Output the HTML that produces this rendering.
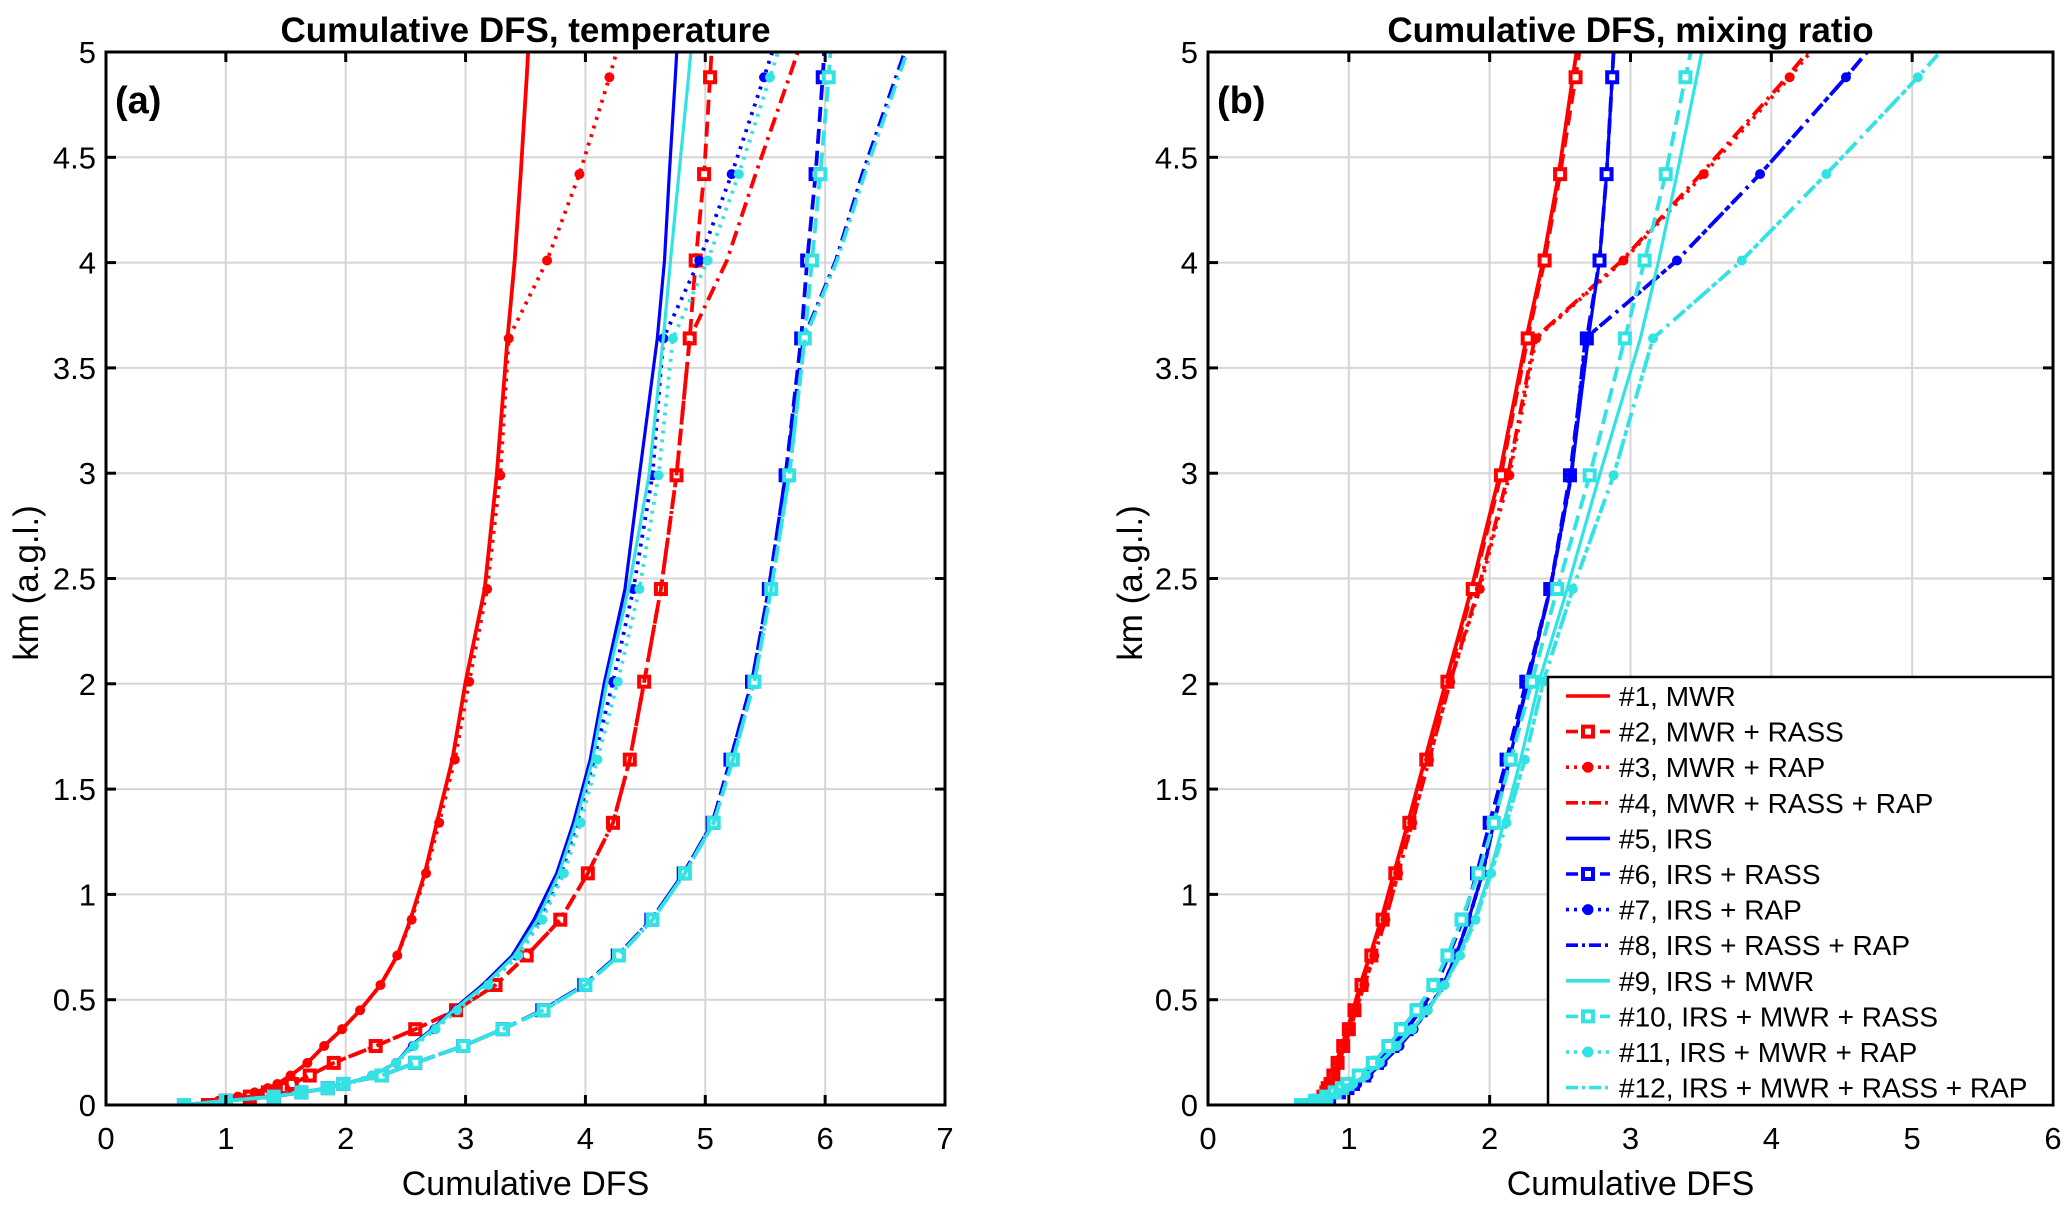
<!DOCTYPE html>
<html><head><meta charset="utf-8"><style>
html,body{margin:0;padding:0;background:#fff}
svg{display:block;font-family:"Liberation Sans",Arial,sans-serif}
</style></head><body>
<svg id="chart" width="2067" height="1207" viewBox="0 0 2067 1207" xmlns="http://www.w3.org/2000/svg">
<defs>
<clipPath id="clipA"><rect x="106" y="52" width="839" height="1053"/></clipPath>
<clipPath id="clipB"><rect x="1208" y="52" width="845" height="1053"/></clipPath>
</defs>
<g id="panelA"></g>
<g id="panelB"></g>
<g id="legend"></g>
</svg>
<script>
// ---- data ----
const heights = [0,0.02,0.04,0.06,0.08,0.1,0.14,0.2,0.28,0.36,0.45,0.57,0.71,0.88,1.1,1.34,1.64,2.01,2.45,2.99,3.64,4.01,4.42,4.88,5.38];
const xTicksA = [0,1,2,3,4,5,6,7];
const xTicksB = [0,1,2,3,4,5,6];
const yTicks = [0,0.5,1,1.5,2,2.5,3,3.5,4,4.5,5];
const yTickLabels = ["0","0.5","1","1.5","2","2.5","3","3.5","4","4.5","5"];
const seriesNames = ["#1, MWR","#2, MWR + RASS","#3, MWR + RAP","#4, MWR + RASS + RAP","#5, IRS","#6, IRS + RASS","#7, IRS + RAP","#8, IRS + RASS + RAP","#9, IRS + MWR","#10, IRS + MWR + RASS","#11, IRS + MWR + RAP","#12, IRS + MWR + RASS + RAP"];
// temperature panel
const tS1 = [0.85,0.94,1.1,1.24,1.35,1.43,1.54,1.68,1.82,1.97,2.12,2.29,2.43,2.54,2.66,2.76,2.89,3.0,3.16,3.26,3.35,3.41,3.46,3.51,3.56];
const tS2 = [0.85,1.0,1.2,1.35,1.5,1.55,1.7,1.9,2.25,2.58,2.92,3.25,3.51,3.79,4.02,4.23,4.37,4.49,4.63,4.76,4.87,4.92,4.99,5.04,5.09];
const tS3 = [0.85,0.94,1.1,1.24,1.35,1.43,1.54,1.68,1.82,1.97,2.12,2.29,2.43,2.55,2.67,2.78,2.91,3.03,3.18,3.29,3.36,3.68,3.95,4.2,4.45];
const tS4 = [0.85,1.0,1.2,1.35,1.5,1.55,1.7,1.9,2.25,2.58,2.92,3.25,3.51,3.79,4.02,4.23,4.37,4.49,4.63,4.76,4.87,5.18,5.42,5.7,6.0];
const tS5 = [0.65,1.0,1.4,1.63,1.85,2.0,2.22,2.42,2.54,2.72,2.89,3.14,3.39,3.57,3.76,3.9,4.04,4.16,4.33,4.45,4.6,4.66,4.7,4.75,4.8];
const tS6 = [0.65,1.0,1.4,1.63,1.85,1.98,2.3,2.58,2.98,3.31,3.64,3.99,4.27,4.55,4.82,5.06,5.21,5.39,5.53,5.67,5.8,5.85,5.92,5.98,6.03];
const tS7 = [0.65,1.0,1.4,1.63,1.85,2.0,2.22,2.42,2.56,2.74,2.92,3.18,3.42,3.62,3.8,3.93,4.07,4.23,4.4,4.56,4.65,4.95,5.22,5.49,5.78];
const tS8 = [0.65,1.0,1.4,1.63,1.85,1.98,2.3,2.58,2.98,3.31,3.64,3.99,4.27,4.55,4.82,5.06,5.21,5.39,5.53,5.67,5.82,6.09,6.31,6.59,6.9];
const tS9 = [0.65,1.0,1.4,1.63,1.85,2.0,2.22,2.42,2.55,2.73,2.9,3.16,3.41,3.6,3.78,3.92,4.06,4.18,4.36,4.53,4.65,4.71,4.78,4.86,4.94];
const tS10 = [0.65,1.0,1.4,1.63,1.85,1.98,2.3,2.58,2.98,3.31,3.65,4.0,4.28,4.56,4.83,5.07,5.23,5.41,5.55,5.7,5.83,5.89,5.96,6.03,6.09];
const tS11 = [0.65,1.0,1.4,1.63,1.85,2.0,2.22,2.42,2.57,2.75,2.93,3.19,3.44,3.64,3.82,3.96,4.1,4.27,4.45,4.61,4.73,5.02,5.28,5.54,5.82];
const tS12 = [0.65,1.0,1.4,1.63,1.85,1.98,2.3,2.58,2.98,3.31,3.65,4.0,4.28,4.56,4.83,5.07,5.23,5.41,5.55,5.7,5.83,6.1,6.33,6.61,6.92];
// mixing ratio panel
const qS1 = [0.8,0.81,0.82,0.83,0.85,0.86,0.88,0.91,0.95,0.99,1.03,1.08,1.15,1.23,1.32,1.42,1.54,1.69,1.87,2.07,2.26,2.38,2.49,2.59,2.7];
const qS2 = [0.8,0.81,0.82,0.84,0.85,0.87,0.89,0.92,0.96,1.0,1.04,1.09,1.16,1.24,1.33,1.43,1.55,1.7,1.88,2.08,2.27,2.39,2.5,2.61,2.72];
const qS3 = [0.8,0.81,0.82,0.84,0.86,0.87,0.9,0.93,0.97,1.01,1.05,1.11,1.18,1.26,1.35,1.45,1.57,1.72,1.93,2.14,2.33,2.95,3.52,4.13,4.75];
const qS4 = [0.8,0.81,0.82,0.84,0.86,0.87,0.9,0.93,0.97,1.01,1.05,1.11,1.18,1.26,1.35,1.45,1.57,1.72,1.92,2.13,2.32,2.94,3.5,4.11,4.73];
const qS5 = [0.7,0.8,0.88,0.95,1.01,1.06,1.14,1.24,1.36,1.46,1.56,1.67,1.76,1.85,1.95,2.03,2.14,2.27,2.43,2.58,2.7,2.78,2.83,2.87,2.91];
const qS6 = [0.68,0.78,0.86,0.93,0.99,1.03,1.11,1.2,1.31,1.41,1.51,1.62,1.71,1.81,1.91,2.0,2.12,2.26,2.43,2.57,2.69,2.78,2.83,2.87,2.91];
const qS7 = [0.7,0.8,0.88,0.95,1.01,1.06,1.14,1.24,1.36,1.46,1.56,1.67,1.76,1.85,1.95,2.03,2.14,2.27,2.43,2.58,2.68,3.33,3.92,4.53,5.15];
const qS8 = [0.7,0.8,0.88,0.95,1.01,1.06,1.14,1.24,1.36,1.46,1.56,1.67,1.76,1.85,1.95,2.03,2.14,2.27,2.43,2.58,2.68,3.33,3.92,4.53,5.15];
const qS9 = [0.66,0.76,0.85,0.92,0.98,1.03,1.12,1.22,1.34,1.45,1.56,1.68,1.78,1.89,2.0,2.1,2.22,2.35,2.55,2.78,3.07,3.2,3.33,3.47,3.62];
const qS10 = [0.66,0.76,0.84,0.9,0.95,0.99,1.07,1.17,1.28,1.37,1.48,1.6,1.7,1.8,1.92,2.03,2.15,2.3,2.48,2.71,2.96,3.1,3.25,3.39,3.55];
const qS11 = [0.66,0.76,0.85,0.92,0.98,1.03,1.12,1.22,1.34,1.45,1.56,1.68,1.79,1.9,2.01,2.12,2.25,2.38,2.59,2.88,3.16,3.79,4.39,5.04,5.7];
const qS12 = [0.66,0.76,0.85,0.92,0.98,1.03,1.12,1.22,1.34,1.45,1.56,1.68,1.79,1.9,2.01,2.12,2.25,2.38,2.59,2.88,3.16,3.79,4.39,5.04,5.7];

// ---- styles (not data) ----
const RED="#ff0000", BLUE="#0000ff", CYAN="#33e3e3";
const styles=[
 {c:RED,d:"",m:""},{c:RED,d:"15 7",m:"sq"},{c:RED,d:"3 6",m:"dot"},{c:RED,d:"15 6 3 6",m:""},
 {c:BLUE,d:"",m:""},{c:BLUE,d:"15 7",m:"sq"},{c:BLUE,d:"3 6",m:"dot"},{c:BLUE,d:"15 6 3 6",m:""},
 {c:CYAN,d:"",m:""},{c:CYAN,d:"15 7",m:"sq"},{c:CYAN,d:"3 6",m:"dot"},{c:CYAN,d:"15 6 3 6",m:""}];
const NS="http://www.w3.org/2000/svg";
const Y0=1105, YT=52;
function yS(h){return Y0-(h/5)*(Y0-YT);}
function mk(tag,attrs,parent){const e=document.createElementNS(NS,tag);for(const k in attrs)e.setAttribute(k,attrs[k]);parent.appendChild(e);return e;}

function drawPanel(g,x0,x1,xmax,xTicks,series,clip,title,letter,ylabX){
  const xS=v=>x0+(v/xmax)*(x1-x0);
  const grid=mk("g",{},g);
  
  
  xTicks.forEach(t=>{if(t>0&&t<xmax)mk("line",{x1:xS(t),x2:xS(t),y1:YT,y2:Y0,stroke:"#d6d6d6","stroke-width":2},grid);});
  yTicks.forEach(t=>{if(t>0&&t<5)mk("line",{x1:x0,x2:x1,y1:yS(t),y2:yS(t),stroke:"#d6d6d6","stroke-width":2},grid);});
  const data=mk("g",{"clip-path":"url(#"+clip+")"},g);
  series.forEach((vals,i)=>{
    const st=styles[i];
    const sg=mk("g",{},data);
    
    
    const pts=vals.map((v,j)=>xS(v).toFixed(1)+","+yS(heights[j]).toFixed(1)).join(" ");
    const pl=mk("polyline",{points:pts,fill:"none",stroke:st.c,"stroke-width":(i===4||i===8)?3.2:3.8,"stroke-linejoin":"round"},sg);
    if(st.d)pl.setAttribute("stroke-dasharray",st.d);
    
    
    vals.forEach((v,j)=>{
      if(!st.m)return;
      const x=xS(v),y=yS(heights[j]);
      let m;
      if(st.m==="sq")m=mk("rect",{x:x-5,y:y-5,width:10,height:10,fill:"#fff",stroke:st.c,"stroke-width":4},sg);
      else m=mk("circle",{cx:x,cy:y,r:5,fill:st.c},sg);
      
      
    });
  });
  const ax=mk("g",{},g);
  
  
  mk("rect",{x:x0,y:YT,width:x1-x0,height:Y0-YT,fill:"none",stroke:"#000","stroke-width":3},ax);
  xTicks.forEach((t,i)=>{
    const x=xS(t);
    mk("line",{x1:x,x2:x,y1:Y0,y2:Y0-10,stroke:"#000","stroke-width":3},ax);
    mk("line",{x1:x,x2:x,y1:YT,y2:YT+10,stroke:"#000","stroke-width":3},ax);
    const tx=mk("text",{x:x,y:Y0+44,"text-anchor":"middle","font-size":31},ax);
    tx.textContent=String(t);
    
    
  });
  yTicks.forEach((t,i)=>{
    const y=yS(t);
    mk("line",{x1:x0,x2:x0+10,y1:y,y2:y,stroke:"#000","stroke-width":3},ax);
    mk("line",{x1:x1,x2:x1-10,y1:y,y2:y,stroke:"#000","stroke-width":3},ax);
    const tx=mk("text",{x:x0-10,y:y+11,"text-anchor":"end","font-size":31},ax);
    tx.textContent=yTickLabels[i];
    
    
  });
  const tt=mk("text",{x:(x0+x1)/2,y:42,"text-anchor":"middle","font-size":35,"font-weight":"bold"},g);
  tt.textContent=title;
  
  
  const lt=mk("text",{x:x0+9,y:113,"font-size":38,"font-weight":"bold"},g);
  lt.textContent=letter;
  
  
  const xl=mk("text",{x:(x0+x1)/2,y:1195,"text-anchor":"middle","font-size":34},g);
  xl.textContent="Cumulative DFS";
  
  
  const yl=mk("text",{x:0,y:0,"text-anchor":"middle","font-size":35,transform:"translate("+ylabX+",583) rotate(-90)"},g);
  yl.textContent="km (a.g.l.)";
  
  
}
drawPanel(document.getElementById("panelA"),106,945,7,xTicksA,[tS1,tS2,tS3,tS4,tS5,tS6,tS7,tS8,tS9,tS10,tS11,tS12],"clipA","Cumulative DFS, temperature","(a)",38);
drawPanel(document.getElementById("panelB"),1208,2053,6,xTicksB,[qS1,qS2,qS3,qS4,qS5,qS6,qS7,qS8,qS9,qS10,qS11,qS12],"clipB","Cumulative DFS, mixing ratio","(b)",1142);

// legend
const lg=document.getElementById("legend");
mk("rect",{x:1548,y:677,width:505,height:428,fill:"#fff",stroke:"#000","stroke-width":2.5},lg);
seriesNames.forEach((n,i)=>{
  const st=styles[i], y=696+i*35.6;
  const en=mk("g",{},lg);
  
  
  const l=mk("line",{x1:1566,x2:1610,y1:y,y2:y,stroke:st.c,"stroke-width":3.6},en);
  if(st.d)l.setAttribute("stroke-dasharray",st.d==="15 7"?"12 5":st.d==="3 6"?"3 5":"12 4 3 4");
  if(st.m==="sq")mk("rect",{x:1583,y:y-5,width:10,height:10,fill:"#fff",stroke:st.c,"stroke-width":4},en);
  if(st.m==="dot")mk("circle",{cx:1588,cy:y,r:5.5,fill:st.c},en);
  const t=mk("text",{x:1619,y:y+10,"font-size":28},en);
  t.textContent=n;
});
</script>
</body></html>
